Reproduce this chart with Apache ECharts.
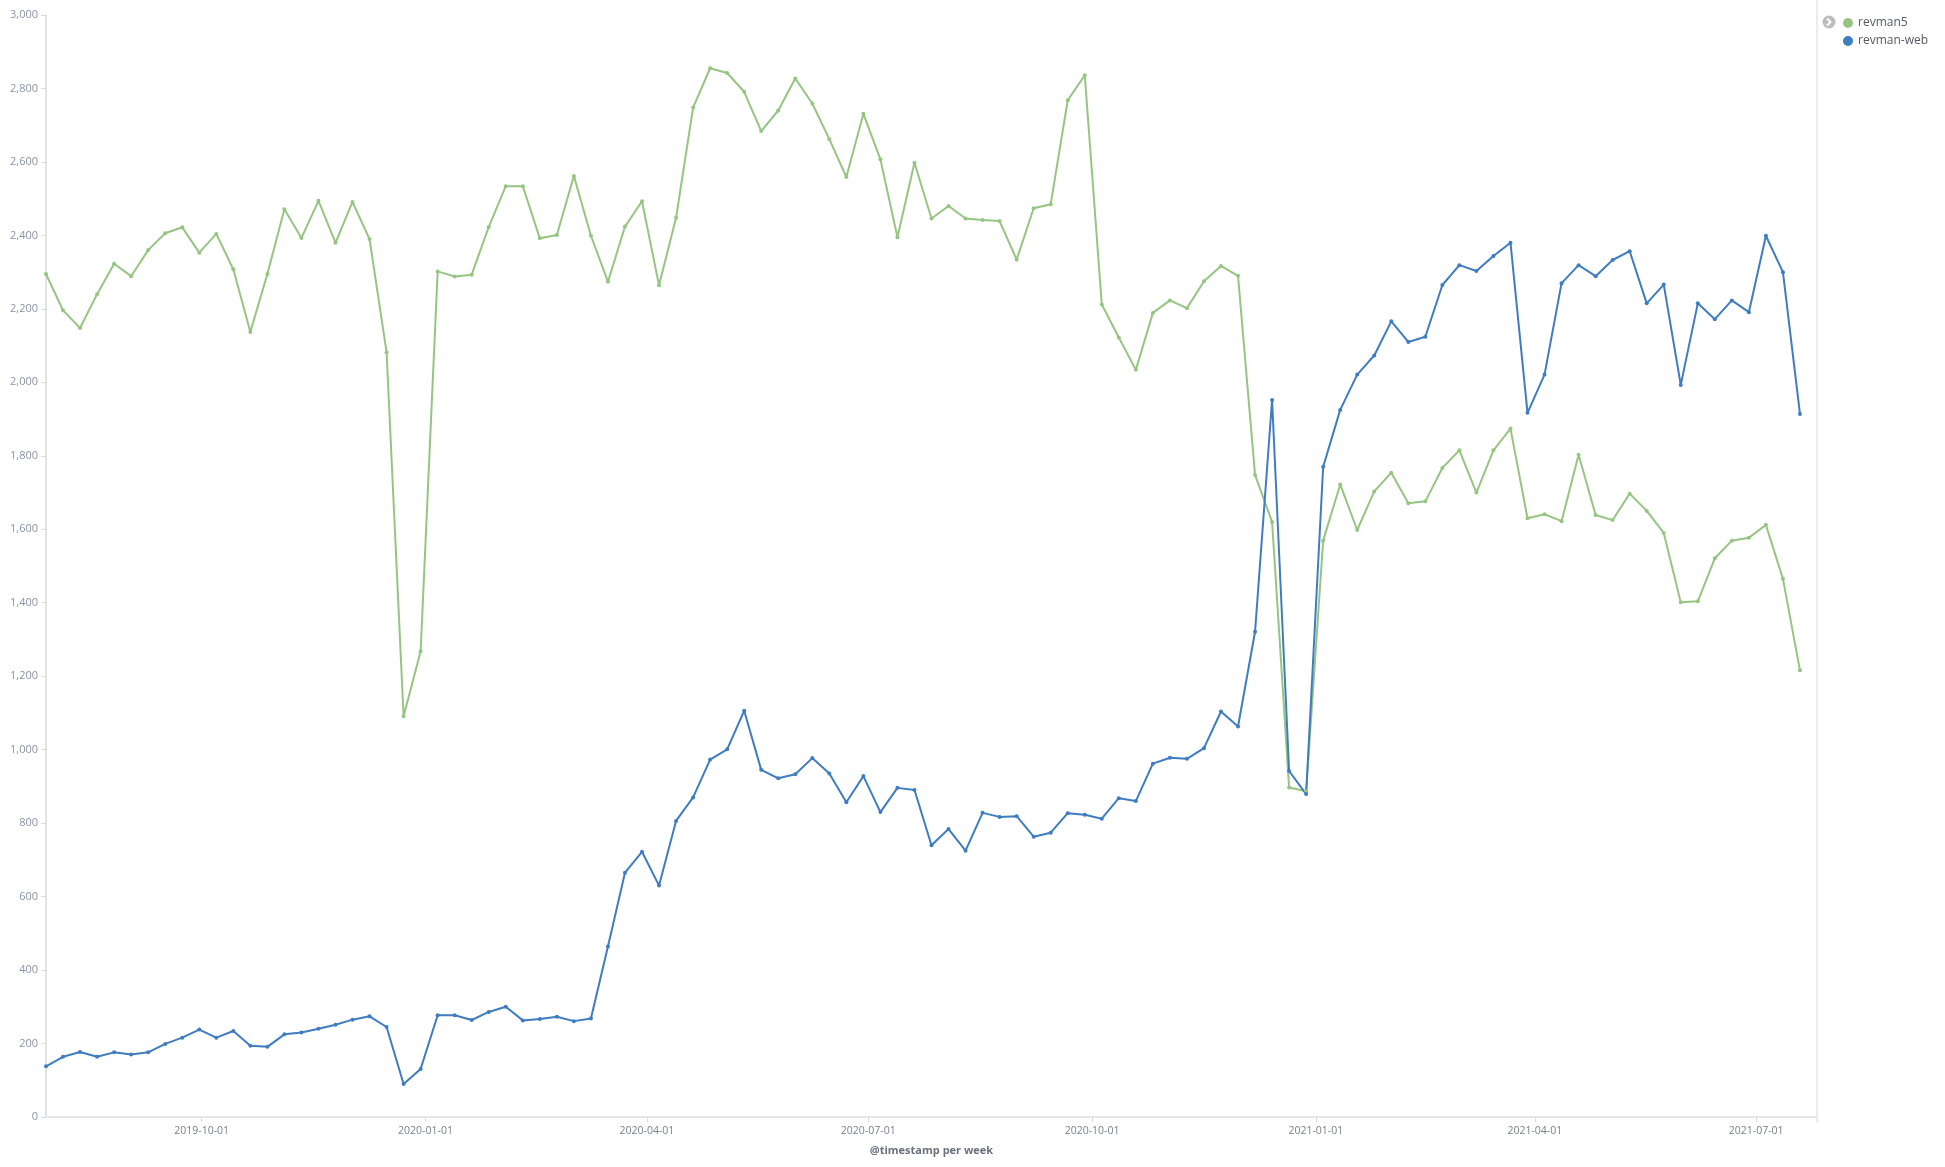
<!DOCTYPE html>
<html>
<head>
<meta charset="utf-8">
<script src="https://cdn.jsdelivr.net/npm/echarts@6/dist/echarts.min.js"></script>
<style>
html,body{margin:0;padding:0;background:#fff;}
#chart{width:1945px;height:1167px;}
</style>
</head>
<body>
<div id="chart"></div>
<script>
// Weekly buckets (Monday starts), first bucket 2019-07-29, 104 weeks
const firstWeek = [2019, 7, 29];
const weekCount = 104;
const axisEnd = '2021-07-26';
const seriesNames = ['revman5', 'revman-web'];
const tickLabels = ['2019-10-01','2020-01-01','2020-04-01','2020-07-01','2020-10-01','2021-01-01','2021-04-01','2021-07-01'];

const revman5 = [
  2295,2196,2148,2240,2323,2289,2360,2406,2422,2353,
  2404,2308,2137,2295,2471,2393,2494,2380,2491,2390,
  2082,1091,1268,2302,2288,2293,2423,2534,2534,2392,
  2401,2562,2399,2274,2424,2493,2264,2448,2748,2855,
  2842,2791,2684,2740,2827,2759,2662,2559,2731,2607,
  2395,2598,2446,2480,2446,2442,2439,2334,2474,2485,
  2768,2836,2212,2122,2034,2189,2223,2202,2275,2317,
  2290,1748,1620,897,887,1569,1722,1598,1703,1754,
  1671,1676,1767,1815,1700,1815,1874,1630,1641,1622,
  1803,1639,1625,1697,1650,1590,1401,1404,1521,1569,
  1577,1612,1465,1216
];
const revmanWeb = [
  138,164,177,164,176,170,176,199,216,238,
  216,234,194,191,225,230,240,251,265,274,
  245,90,131,277,277,264,286,300,263,267,
  273,261,268,464,665,722,630,806,870,973,
  1001,1106,945,922,933,977,935,857,928,830,
  896,890,740,784,725,828,817,819,763,774,
  827,823,812,868,860,962,978,975,1004,1104,
  1063,1321,1952,942,879,1770,1925,2021,2073,2166,
  2110,2124,2265,2319,2303,2344,2380,1917,2021,2270,
  2319,2289,2333,2357,2215,2266,1993,2215,2172,2223,
  2191,2399,2300,1914
];

function parseDay(s){ const p = s.split('-').map(Number); return Date.UTC(p[0], p[1]-1, p[2]); }
function fmtDay(v){ const d = new Date(v); const p = n => String(n).padStart(2,'0'); return d.getUTCFullYear() + '-' + p(d.getUTCMonth()+1) + '-' + p(d.getUTCDate()); }
const weeks = [];
for (let i = 0; i < weekCount; i++) weeks.push(Date.UTC(firstWeek[0], firstWeek[1]-1, firstWeek[2] + 7*i));
const tickValues = tickLabels.map(parseDay);

const chart = echarts.init(document.getElementById('chart'), null, {renderer:'canvas'});
const font = '"Open Sans", "Noto Sans", sans-serif';
chart.setOption({
  animation: false,
  backgroundColor: '#fff',
  grid: {left: 46, right: 128, top: 15, bottom: 50, containLabel: false},
  legend: {
    orient: 'vertical',
    left: 1838, top: 12,
    icon: 'circle',
    itemWidth: 10, itemHeight: 10, itemGap: 6,
    textStyle: {color: '#535966', fontSize: 12, fontFamily: font},
    data: seriesNames
  },
  xAxis: {
    type: 'value',
    min: weeks[0],
    max: parseDay(axisEnd),
    name: '@timestamp per week',
    nameLocation: 'middle',
    nameGap: 28,
    nameTextStyle: {color: '#6a717d', fontSize: 11, fontWeight: 'bold', fontFamily: font},
    axisLine: {show: true, lineStyle: {color: '#e6e6e6', width: 2}},
    axisTick: {show: true, length: 5, lineStyle: {color: '#dcdcdc'}, customValues: tickValues},
    axisLabel: {
      color: '#7a818c', fontSize: 10.5, fontFamily: font, margin: 9,
      customValues: tickValues,
      formatter: function (v) { return fmtDay(v); }
    },
    splitLine: {show: false}
  },
  yAxis: {
    type: 'value',
    min: 0, max: 3000, interval: 200,
    axisLine: {show: true, lineStyle: {color: '#d9d9d9', width: 1.5}},
    axisTick: {show: true, length: 5, lineStyle: {color: '#d9d9d9'}},
    axisLabel: {
      color: '#8a94a6', fontSize: 11, fontFamily: font, margin: 8,
      formatter: function (v) { return v.toLocaleString('en-US'); }
    },
    splitLine: {show: false}
  },
  graphic: [
    {type: 'line', shape: {x1: 1817, y1: 0, x2: 1817, y2: 1123}, style: {stroke: '#ececec', lineWidth: 2}, silent: true},
    {type: 'circle', shape: {cx: 1829, cy: 22, r: 6.5}, style: {fill: '#bdbdbd'}, silent: true},
    {type: 'polyline', shape: {points: [[1827, 18.5], [1830.5, 22], [1827, 25.5]]}, style: {stroke: '#fff', lineWidth: 2, fill: null}, silent: true}
  ],
  series: [
    {
      name: seriesNames[0], type: 'line',
      data: weeks.map((t, i) => [t, revman5[i]]),
      color: '#96c582',
      lineStyle: {width: 2, color: '#96c582'},
      symbol: 'circle', symbolSize: 4, showSymbol: true,
      itemStyle: {color: '#96c582'}
    },
    {
      name: seriesNames[1], type: 'line',
      data: weeks.map((t, i) => [t, revmanWeb[i]]),
      color: '#3f7cc0',
      lineStyle: {width: 2, color: '#3f7cc0'},
      symbol: 'circle', symbolSize: 4, showSymbol: true,
      itemStyle: {color: '#3f7cc0'}
    }
  ]
});
</script>
</body>
</html>
